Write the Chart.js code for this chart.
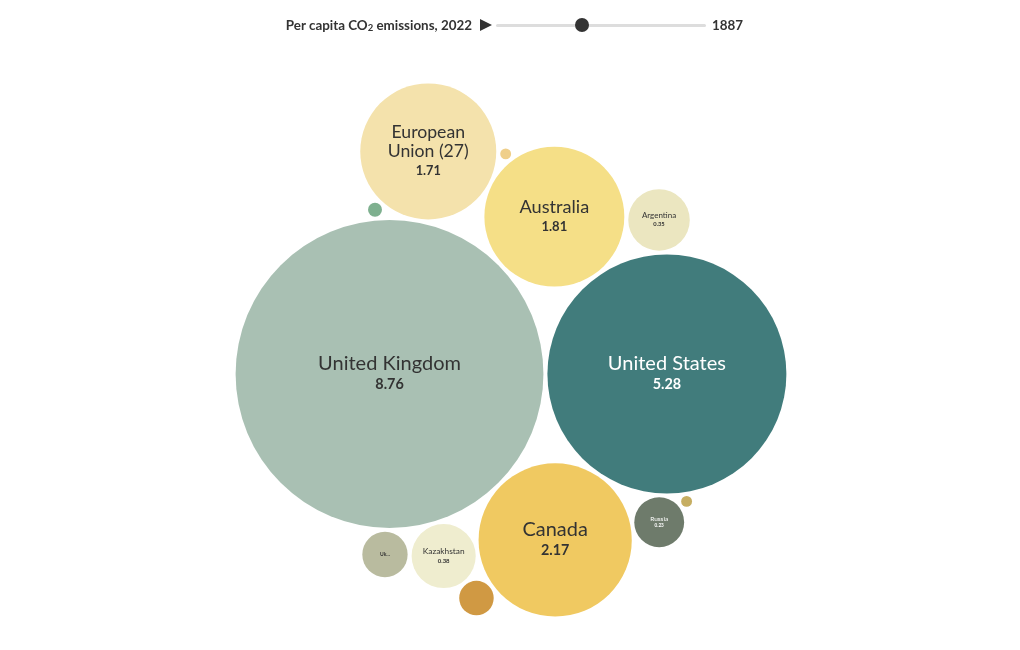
<!DOCTYPE html>
<html>
<head>
<meta charset="utf-8">
<script src="https://cdn.jsdelivr.net/npm/chart.js@4.4.1/dist/chart.umd.min.js"></script>
<style>
  html, body { margin: 0; padding: 0; background: #fff; }
  body { width: 1020px; height: 650px; position: relative; overflow: hidden; font-family: "Lato", "Open Sans", sans-serif; }
  #wrap { position: absolute; left: 0; top: 0; width: 1020px; height: 650px; }
  #controls { position: absolute; top: 15px; left: 0; width: 1020px; height: 20px; color: #333; font-weight: bold; font-size: 13.4px; }
  #title { position: absolute; right: 548px; top: 2px; white-space: nowrap; }
  #title sub { font-size: 9.5px; vertical-align: baseline; position: relative; top: 1px; }
  #play { position: absolute; left: 480px; top: 4px; width: 0; height: 0; border-top: 6.5px solid transparent; border-bottom: 6.5px solid transparent; border-left: 12px solid #333; }
  #track { position: absolute; left: 496px; top: 9px; width: 210px; height: 3px; background: #ddd; border-radius: 2px; }
  #knob { position: absolute; left: 575px; top: 3px; width: 14px; height: 14px; border-radius: 50%; background: #333; }
  #year { position: absolute; left: 712px; top: 2px; }
</style>
</head>
<body>
<div id="wrap"><canvas id="bubbleChart" width="1020" height="650"></canvas></div>
<div id="controls">
  <div id="title">Per capita CO<sub>2</sub> emissions, 2022</div>
  <div id="play"></div>
  <div id="track"></div>
  <div id="knob"></div>
  <div id="year">1887</div>
</div>
<script>
// Per capita CO2 emissions, tonnes, 1887
const countries = ['United Kingdom', 'United States', 'Canada', 'Australia', 'European Union (27)',
    'Kazakhstan', 'Argentina', 'Russia', 'Ukraine', 'Chile', 'New Zealand', 'Mexico', 'South Africa'];
const emissions = [8.76, 5.28, 2.17, 1.81, 1.71, 0.38, 0.35, 0.23, 0.19, 0.11, 0.018, 0.011, 0.011];
const colors = ['#a9c0b3', '#417c7c', '#f0c961', '#f5df87', '#f4e2ac', '#efedcf', '#ebe6c0',
    '#6e7b6b', '#b9bb9f', '#d09943', '#7eb08f', '#efcf8a', '#c6ae62'];

const radiusScale = 52;   // px per sqrt(tonne)
const padding = 2;

// front-chain circle packing (same approach as d3.packSiblings)
function place(b, a, c) {
    const dx = b.x - a.x, dy = b.y - a.y, d2 = dx * dx + dy * dy;
    if (d2) {
        let a2 = a.r + c.r; a2 *= a2;
        let b2 = b.r + c.r; b2 *= b2;
        if (a2 > b2) {
            const x = (d2 + b2 - a2) / (2 * d2);
            const y = Math.sqrt(Math.max(0, b2 / d2 - x * x));
            c.x = b.x - x * dx - y * dy;
            c.y = b.y - x * dy + y * dx;
        } else {
            const x = (d2 + a2 - b2) / (2 * d2);
            const y = Math.sqrt(Math.max(0, a2 / d2 - x * x));
            c.x = a.x + x * dx - y * dy;
            c.y = a.y + x * dy + y * dx;
        }
    } else {
        c.x = a.x + c.r;
        c.y = a.y;
    }
}

function intersects(a, b) {
    const dr = a.r + b.r - 1e-6, dx = b.x - a.x, dy = b.y - a.y;
    return dr > 0 && dr * dr > dx * dx + dy * dy;
}

function score(node) {
    const a = node._, b = node.next._, ab = a.r + b.r;
    const dx = (a.x * b.r + b.x * a.r) / ab, dy = (a.y * b.r + b.y * a.r) / ab;
    return dx * dx + dy * dy;
}

function packSiblings(circles) {
    const n = circles.length;
    let a = circles[0], b, c, i, j, k, sj, sk, aa, ca;
    a.x = 0; a.y = 0;
    if (n < 2) return;
    b = circles[1]; a.x = -b.r; b.x = a.r; b.y = 0;
    if (n < 3) return;
    c = circles[2];
    place(b, a, c);
    a = { _: a }; b = { _: b }; c = { _: c };
    a.next = c.previous = b;
    b.next = a.previous = c;
    c.next = b.previous = a;
    pack: for (i = 3; i < n; ++i) {
        c = circles[i];
        place(a._, b._, c);
        c = { _: c };
        j = b.next; k = a.previous; sj = b._.r; sk = a._.r;
        do {
            if (sj <= sk) {
                if (intersects(j._, c._)) {
                    b = j; a.next = b; b.previous = a; --i;
                    continue pack;
                }
                sj += j._.r; j = j.next;
            } else {
                if (intersects(k._, c._)) {
                    a = k; a.next = b; b.previous = a; --i;
                    continue pack;
                }
                sk += k._.r; k = k.previous;
            }
        } while (j !== k.next);
        c.previous = a; c.next = b; a.next = b.previous = b = c;
        aa = score(a);
        while ((c = c.next) !== b) {
            if ((ca = score(c)) < aa) { a = c; aa = ca; }
        }
        b = a.next;
    }
}

// build bubbles from the values
const circles = emissions.map(function (v, i) {
    return { i: i, r: Math.sqrt(v) * radiusScale + padding, x: 0, y: 0 };
});
circles.sort(function (p, q) { return q.r - p.r; });
packSiblings(circles);
circles.forEach(function (c) { c.r -= padding; });
circles.sort(function (p, q) { return p.i - q.i; });

let minX = Infinity, maxX = -Infinity, minY = Infinity, maxY = -Infinity;
circles.forEach(function (c) {
    minX = Math.min(minX, c.x - c.r); maxX = Math.max(maxX, c.x + c.r);
    minY = Math.min(minY, c.y - c.r); maxY = Math.max(maxY, c.y + c.r);
});
const cx = (minX + maxX) / 2, cy = (minY + maxY) / 2;
const W = 1020, H = 650, centerX = 511, centerY = 350;

function textColor(hex) {
    const r = parseInt(hex.substr(1, 2), 16), g = parseInt(hex.substr(3, 2), 16), b = parseInt(hex.substr(5, 2), 16);
    return (0.299 * r + 0.587 * g + 0.114 * b) < 140 ? '#ffffff' : '#333333';
}

// labels inside the bubbles
const bubbleLabels = {
    id: 'bubbleLabels',
    afterDatasetsDraw(chart) {
        const ctx = chart.ctx;
        const meta = chart.getDatasetMeta(0);
        meta.data.forEach(function (el, i) {
            const r = circles[i].r;
            if (r < 20) return;
            const fs = Math.min(20, r * 0.26);
            const vfs = fs * 0.72;
            const family = '"Lato", "Open Sans", sans-serif';
            ctx.save();
            ctx.fillStyle = textColor(colors[i]);
            ctx.textAlign = 'center';
            ctx.textBaseline = 'middle';
            ctx.font = fs + 'px ' + family;
            if (r < 24) {
                ctx.font = 'bold ' + (fs * 0.85) + 'px ' + family;
                ctx.fillText(countries[i].slice(0, 2) + '...', el.x, el.y);
                ctx.restore();
                return;
            }
            // wrap the name if it is too wide
            let lines = [countries[i]];
            if (ctx.measureText(countries[i]).width > r * 1.6) {
                const words = countries[i].split(' ');
                lines = [];
                let cur = '';
                words.forEach(function (w) {
                    const t = cur ? cur + ' ' + w : w;
                    if (cur && ctx.measureText(t).width > r * 1.3) { lines.push(cur); cur = w; } else { cur = t; }
                });
                lines.push(cur);
            }
            const lh = fs * 1.08;
            const total = lines.length + 1;
            let y = el.y - (total - 1) * lh / 2;
            lines.forEach(function (l) {
                ctx.fillText(l, el.x, y);
                y += lh;
            });
            ctx.font = 'bold ' + vfs + 'px ' + family;
            ctx.fillText(emissions[i].toFixed(2), el.x, y);
            ctx.restore();
        });
    }
};

const ctx = document.getElementById('bubbleChart').getContext('2d');
new Chart(ctx, {
    type: 'bubble',
    data: {
        labels: countries,
        datasets: [{
            label: 'Per capita CO2 emissions',
            data: circles.map(function (c) { return { x: c.x, y: c.y, r: c.r }; }),
            backgroundColor: colors,
            borderWidth: 0,
            hoverBorderWidth: 0,
            clip: false
        }]
    },
    options: {
        responsive: false,
        animation: false,
        events: [],
        layout: { padding: 0, autoPadding: false },
        plugins: {
            legend: { display: false },
            tooltip: { enabled: false }
        },
        scales: {
            x: { type: 'linear', display: false, min: cx - centerX, max: cx - centerX + W },
            y: { type: 'linear', display: false, reverse: true, min: cy - centerY, max: cy - centerY + H }
        }
    },
    plugins: [bubbleLabels]
});
</script>
</body>
</html>
